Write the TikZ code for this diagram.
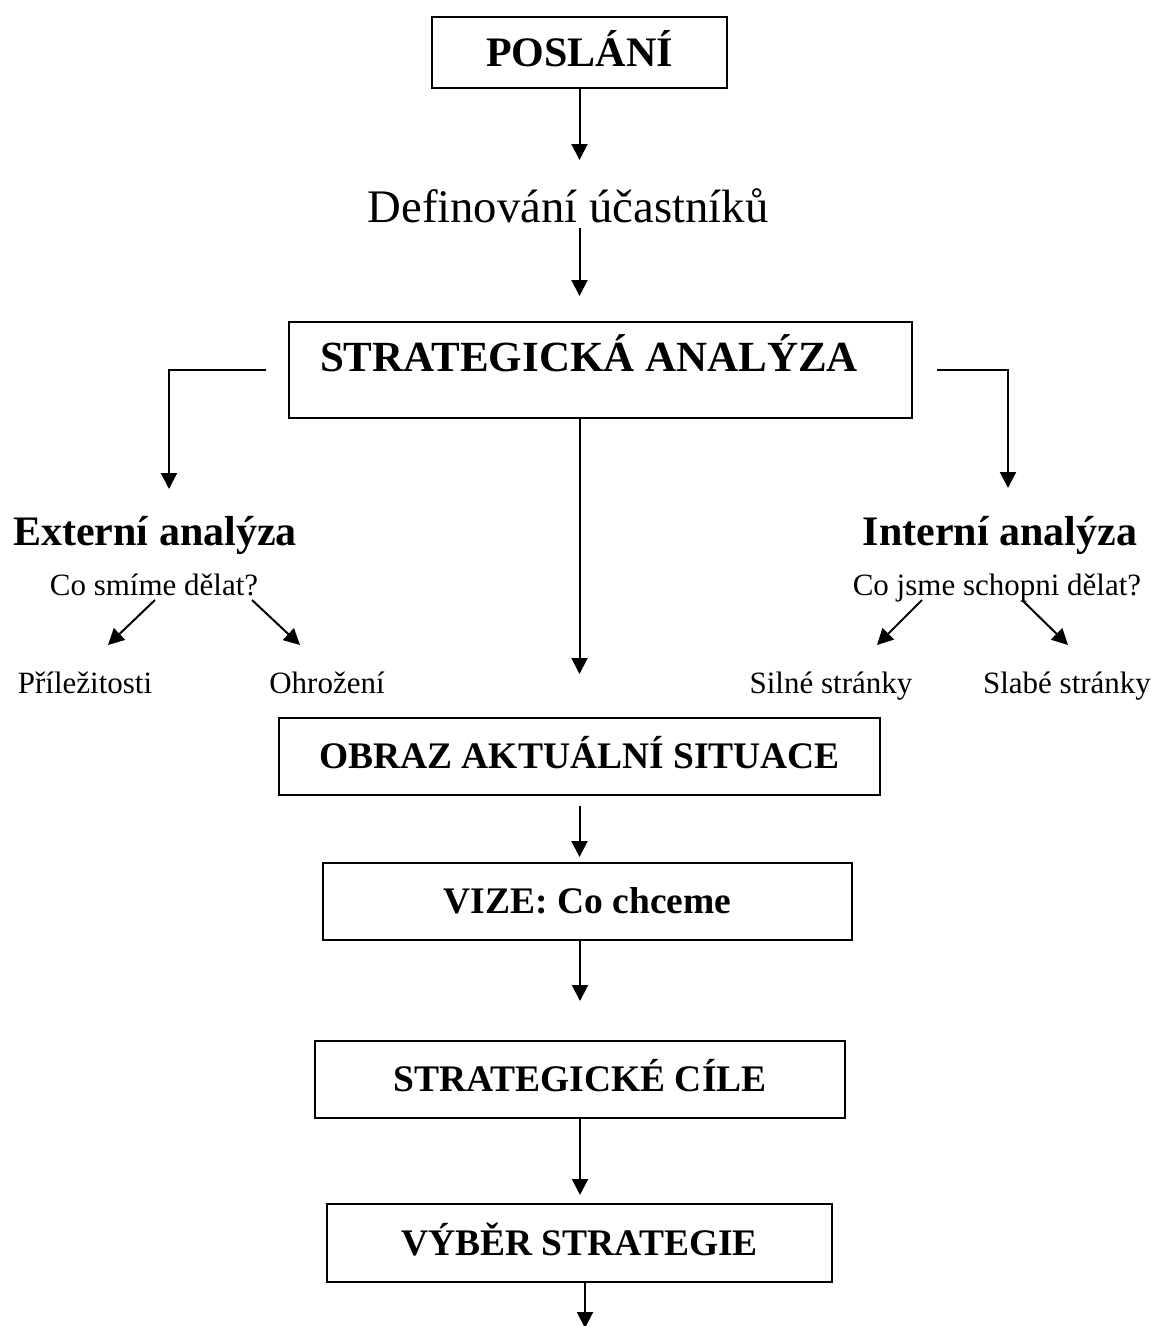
\documentclass[tikz,border=0pt]{standalone}
\usepackage{fontspec}
\setmainfont{Liberation Serif}
\usetikzlibrary{arrows.meta}

\begin{document}
\begin{tikzpicture}[x=1pt, y=-1pt,
	box/.style={draw, line width=2pt, inner sep=0pt, text height=24.8pt, text depth=0pt,
		font=\bfseries\fontsize{37.5}{45}\selectfont},
	head/.style={anchor=base, inner sep=0pt, font=\bfseries\fontsize{42}{50}\selectfont},
	note/.style={anchor=base, inner sep=0pt, font=\fontsize{31}{37}\selectfont},
	arr/.style={line width=2pt, -{Triangle[width=16pt,length=16pt]}}]
	\useasboundingbox (0,0) rectangle (1155,1326);

	% top of the chain
	\node[box, minimum width=295pt, minimum height=71pt, text height=27.8pt,
		font=\bfseries\fontsize{42}{50}\selectfont] (posl) at (579.5,52.5) {POSL\'AN\'I};
	\node[anchor=base, inner sep=0pt, font=\fontsize{46.7}{56}\selectfont] (defin) at (568,222) {Definování účastníků};
	\node[box, minimum width=623pt, minimum height=96pt, text height=28.4pt, text depth=25pt,
		font=\bfseries\fontsize{43}{52}\selectfont] (sa) at (600.5,370) {STRATEGICKÁ ANALÝZA\hspace*{23pt}};

	\coordinate (definin) at (579.5,160);
	\draw[arr] (posl.south) -- (definin);
	\draw[arr, shorten <=5pt, shorten >=25pt] (defin.south -| posl.south) -- (sa.north -| posl.south);

	% external side
	\node[head] (ext) at (155,545) {Externí analýza};
	\node[note] (extq) at (154,595) {Co smíme dělat?};
	\node[note] (pril) at (85,693) {Příležitosti};
	\node[note] (ohr) at (327,693) {Ohrožení};

	% internal side
	\node[head] (int) at (1000,545) {Interní analýza};
	\node[note] (intq) at (997,595) {Co jsme schopni dělat?};
	\node[note] (siln) at (831,693) {Silné stránky};
	\node[note] (slab) at (1067,693) {Slabé stránky};

	\coordinate (saL) at (266,370);
	\coordinate (extin) at (169,489);
	\coordinate (saR) at (937,370);
	\coordinate (intin) at (1008,488);
	\draw[arr] (saL) -| (extin);
	\draw[arr] (saR) -| (intin);

	\coordinate (extL) at (155,600);  \coordinate (prilin) at (108,645);
	\coordinate (extR) at (252,600);  \coordinate (ohrin) at (300,645);
	\coordinate (intL) at (922,600);  \coordinate (silnin) at (877,645);
	\coordinate (intR) at (1022,600); \coordinate (slabin) at (1068,645);
	\draw[arr] (extL) -- (prilin);
	\draw[arr] (extR) -- (ohrin);
	\draw[arr] (intL) -- (silnin);
	\draw[arr] (intR) -- (slabin);

	% lower chain
	\node[box, minimum width=601pt, minimum height=77pt] (obr) at (579.5,756.5) {OBRAZ AKTUÁLNÍ SITUACE};
	\node[box, minimum width=529pt, minimum height=77pt] (vize) at (587.5,901.5) {VIZE: Co chceme};
	\node[box, minimum width=530pt, minimum height=77pt] (cile) at (580,1079.5) {STRATEGICKÉ CÍLE};
	\node[box, minimum width=505pt, minimum height=78pt] (vyb) at (579.5,1243) {VÝBĚR STRATEGIE};

	\draw[arr, shorten >=43pt] (sa.south -| obr.north) -- (obr.north);
	\draw[arr, shorten <=10pt, shorten >=5pt] (obr.south) -- (obr.south |- vize.north);
	\draw[arr, shorten >=39pt] (vize.south -| cile.north) -- (cile.north);
	\draw[arr, shorten >=8pt] (cile.south) -- (cile.south |- vyb.north);
	\coordinate (vybout) at (585,1328);
	\draw[arr] (vyb.south -| vybout) -- (vybout);
\end{tikzpicture}
\end{document}
